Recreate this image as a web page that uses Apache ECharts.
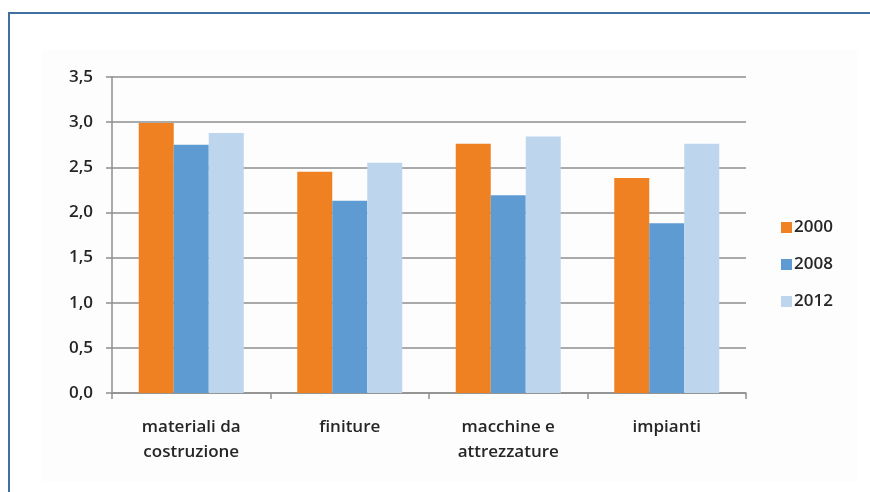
<!DOCTYPE html>
<html>
<head>
<meta charset="utf-8">
<script src="https://cdn.jsdelivr.net/npm/echarts@6/dist/echarts.min.js"></script>
<style>
  html, body { margin: 0; padding: 0; background: #ffffff; }
  #chart { width: 870px; height: 492px; }
</style>
</head>
<body>
<div id="chart"></div>
<script>
// Categories (two-line labels) and yearly values
const categories = ['materiali da\ncostruzione', 'finiture', 'macchine e\nattrezzature', 'impianti'];
const years = ['2000', '2008', '2012'];
const values2000 = [2.99, 2.45, 2.76, 2.38];
const values2008 = [2.75, 2.13, 2.19, 1.88];
const values2012 = [2.88, 2.55, 2.84, 2.76];
const colors = ['#ef8122', '#5e9bd3', '#bdd6ee'];

const FONT = '"Open Sans", sans-serif';
const WEIGHT = 600;
const chart = echarts.init(document.getElementById('chart'), null, { renderer: 'canvas' });

const seriesData = [values2000, values2008, values2012];

chart.setOption({
  backgroundColor: '#ffffff',
  animation: false,
  color: colors,
  graphic: [
    { type: 'rect', shape: { x: 42, y: 50, width: 815, height: 432 }, style: { fill: '#fdfdfe' }, z: -10 },
    { type: 'line', shape: { x1: 9, y1: 13, x2: 870, y2: 13 }, style: { stroke: '#40709f', lineWidth: 2 } },
    { type: 'line', shape: { x1: 9, y1: 12, x2: 9, y2: 492 }, style: { stroke: '#40709f', lineWidth: 2 } }
  ],
  grid: { left: 112, right: 124, top: 77, bottom: 99, containLabel: false },
  legend: {
    orient: 'vertical',
    left: 776,
    top: 214,
    itemWidth: 11,
    itemHeight: 11,
    itemGap: 20,
    icon: 'rect',
    data: years,
    textStyle: { fontFamily: FONT, fontWeight: WEIGHT, fontSize: 17, color: '#262626', padding: [0, 0, 0, -3] }
  },
  xAxis: {
    type: 'category',
    data: categories,
    axisLine: { lineStyle: { color: '#8e8e8e', width: 1.5 } },
    axisTick: { show: true, length: 6, lineStyle: { color: '#8e8e8e', width: 1.5 } },
    axisLabel: {
      fontFamily: FONT, fontWeight: WEIGHT, fontSize: 17, color: '#262626', margin: 22, lineHeight: 25,
      interval: 0
    }
  },
  yAxis: {
    type: 'value',
    min: 0,
    max: 3.5,
    interval: 0.5,
    axisLine: { show: true, lineStyle: { color: '#8e8e8e', width: 1.5 } },
    axisTick: { show: true, length: 6, lineStyle: { color: '#8e8e8e', width: 1.5 } },
    splitLine: { lineStyle: { color: '#8e8e8e', width: 1.6 } },
    axisLabel: {
      fontFamily: FONT, fontWeight: WEIGHT, fontSize: 17, color: '#262626', margin: 19,
      formatter: v => v.toFixed(1).replace('.', ',')
    }
  },
  series: years.map((y, i) => ({
    name: y,
    type: 'bar',
    data: seriesData[i],
    barWidth: 35,
    barGap: '0%',
    itemStyle: { color: colors[i] }
  }))
});
</script>
</body>
</html>
